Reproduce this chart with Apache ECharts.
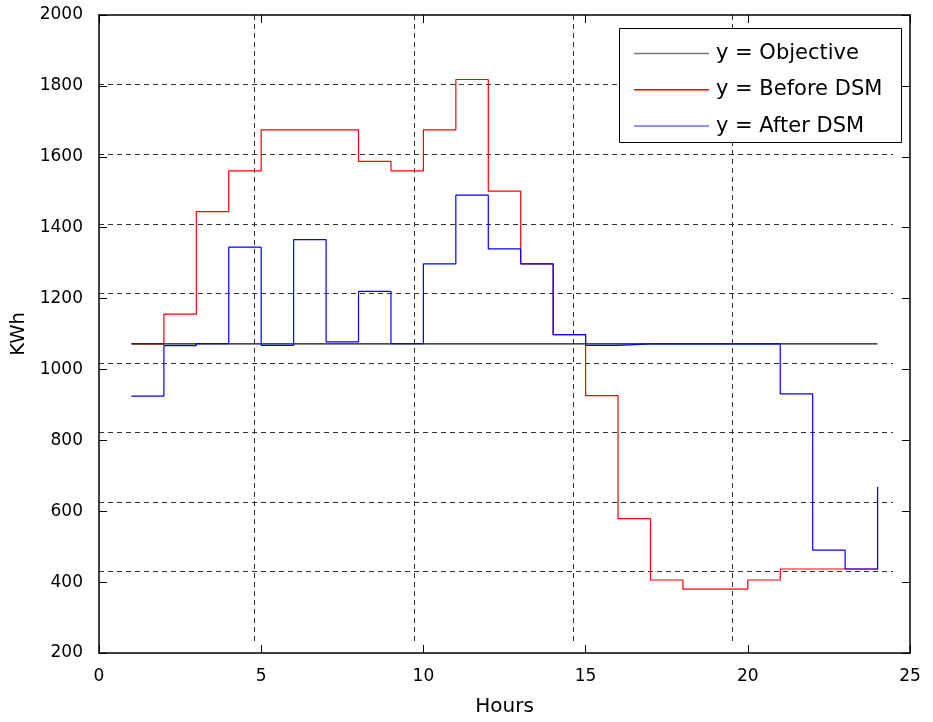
<!DOCTYPE html>
<html>
<head>
<meta charset="utf-8">
<script src="https://cdn.jsdelivr.net/npm/echarts@6/dist/echarts.min.js"></script>
<style>
html, body { margin: 0; padding: 0; background: #fff; }
#main { width: 933px; height: 722px; }
</style>
</head>
<body>
<div id="main"></div>
<script>
// hours 1..24
var hours = [1, 2, 3, 4, 5, 6, 7, 8, 9, 10, 11, 12, 13, 14, 15, 16, 17, 18, 19, 20, 21, 22, 23, 24];
var objective = [1072, 1072, 1072, 1072, 1072, 1072, 1072, 1072, 1072, 1072, 1072, 1072,
                 1072, 1072, 1072, 1072, 1072, 1072, 1072, 1072, 1072, 1072, 1072, 1072];
var beforeDSM = [1072, 1156, 1445, 1560, 1676, 1676, 1676, 1587, 1560, 1676, 1818, 1503,
                 1298, 1098, 926, 579, 406, 380, 380, 406, 437, 437, 437, 668];
var afterDSM = [925, 1067, 1073, 1345, 1068, 1366, 1078, 1220, 1073, 1298, 1492, 1340,
                1298, 1098, 1068, 1072, 1072, 1072, 1072, 1072, 931, 490, 437, 668];
var xTicks = [0, 5, 10, 15, 20, 25];
var yTicks = [200, 400, 600, 800, 1000, 1200, 1400, 1600, 1800, 2000];

var seriesNames = ['y = Objective', 'y = Before DSM', 'y = After DSM'];

function pairs(ys) {
	var out = [];
	for (var i = 0; i < hours.length; i++) {
		out.push([hours[i], ys[i]]);
	}
	return out;
}

var font = 'DejaVu Sans, Liberation Sans, Arial, sans-serif';
var dash = { color: '#333', width: 1, type: [5, 4] };

var tickAxisX = {
	type: 'value', gridIndex: 0, min: xTicks[0], max: xTicks[xTicks.length - 1], interval: 5,
	axisLine: { show: true, onZero: false, lineStyle: { color: '#000', width: 1.5 } },
	axisTick: { show: true, inside: true, length: 8, lineStyle: { color: '#000' } },
	splitLine: { show: false }
};
var tickAxisY = {
	type: 'value', gridIndex: 0, min: yTicks[0], max: yTicks[yTicks.length - 1], interval: 200,
	axisLine: { show: true, onZero: false, lineStyle: { color: '#000', width: 1.5 } },
	axisTick: { show: true, inside: true, length: 8, lineStyle: { color: '#000' } },
	splitLine: { show: false }
};

var option = {
	animation: false,
	backgroundColor: '#fff',
	textStyle: { fontFamily: font },
	grid: [
		// main plot
		{ left: 99, top: 15, width: 811, height: 640 },
		// vertical dashed grid (slightly offset, as in the original)
		{ left: 254.7, top: 15, width: 478, height: 626.5 },
		// horizontal dashed grid
		{ left: 99, top: 84.7, width: 794, height: 487 }
	],
	xAxis: [
		Object.assign({}, tickAxisX, {
			position: 'bottom',
			axisLabel: { show: true, margin: 15, fontSize: 17, color: '#000', fontFamily: font },
			name: 'Hours', nameLocation: 'middle', nameGap: 44,
			nameTextStyle: { fontSize: 20, color: '#000', fontFamily: font }
		}),
		Object.assign({}, tickAxisX, { position: 'top', axisLabel: { show: false } }),
		{
			type: 'value', gridIndex: 1, min: 5, max: 20, interval: 5,
			axisLine: { show: false }, axisTick: { show: false }, axisLabel: { show: false },
			splitLine: { show: true, lineStyle: dash }
		},
		{
			type: 'value', gridIndex: 2, min: 0, max: 1, show: false
		}
	],
	yAxis: [
		Object.assign({}, tickAxisY, {
			position: 'left',
			axisLabel: {
				show: true, margin: 16, fontSize: 17, color: '#000', fontFamily: font,
				formatter: function(v) { return String(v); }
			},
			name: 'KWh', nameLocation: 'middle', nameGap: 62, nameRotate: 90,
			nameTextStyle: { fontSize: 19.5, color: '#000', fontFamily: font }
		}),
		Object.assign({}, tickAxisY, { position: 'right', axisLabel: { show: false } }),
		{
			type: 'value', gridIndex: 1, min: 0, max: 1, show: false
		},
		{
			type: 'value', gridIndex: 2, min: 400, max: 1800, interval: 200,
			axisLine: { show: false }, axisTick: { show: false }, axisLabel: { show: false },
			splitLine: { show: true, lineStyle: dash }
		}
	],
	legend: {
		orient: 'vertical',
		left: 629,
		top: 38,
		z: 100,
		itemWidth: 75,
		itemHeight: 1.5,
		itemGap: 15.3,
		icon: 'rect',
		data: [
			{ name: seriesNames[0], itemStyle: { color: '#777' } },
			{ name: seriesNames[1], itemStyle: { color: '#ff0000' } },
			{ name: seriesNames[2], itemStyle: { color: '#6a6aff' } }
		],
		textStyle: { fontSize: 21, color: '#000', fontFamily: font, padding: [0, 0, 0, 2] },
		selectedMode: false
	},
	graphic: [
		{
			type: 'rect',
			shape: { x: 619.5, y: 28.5, width: 282, height: 114 },
			style: { fill: '#fff', stroke: '#000', lineWidth: 1 },
			z: 90
		}
	],
	series: [
		{
			name: seriesNames[1], type: 'line', step: 'end', xAxisIndex: 0, yAxisIndex: 0,
			data: pairs(beforeDSM), showSymbol: false, symbol: 'none',
			lineStyle: { color: '#ff0000', width: 1.2 }, itemStyle: { color: '#ff0000' }, z: 3
		},
		{
			name: seriesNames[0], type: 'line', xAxisIndex: 0, yAxisIndex: 0,
			data: pairs(objective), showSymbol: false, symbol: 'none',
			lineStyle: { color: '#111', width: 1.3 }, itemStyle: { color: '#000' }, z: 4
		},
		{
			name: seriesNames[2], type: 'line', step: 'end', xAxisIndex: 0, yAxisIndex: 0,
			data: pairs(afterDSM), showSymbol: false, symbol: 'none',
			lineStyle: { color: '#0000ff', width: 1.2 }, itemStyle: { color: '#0000ff' }, z: 5
		}
	]
};

var myChart = echarts.init(document.getElementById('main'), null, { renderer: 'canvas' });
myChart.setOption(option);
</script>
</body>
</html>
